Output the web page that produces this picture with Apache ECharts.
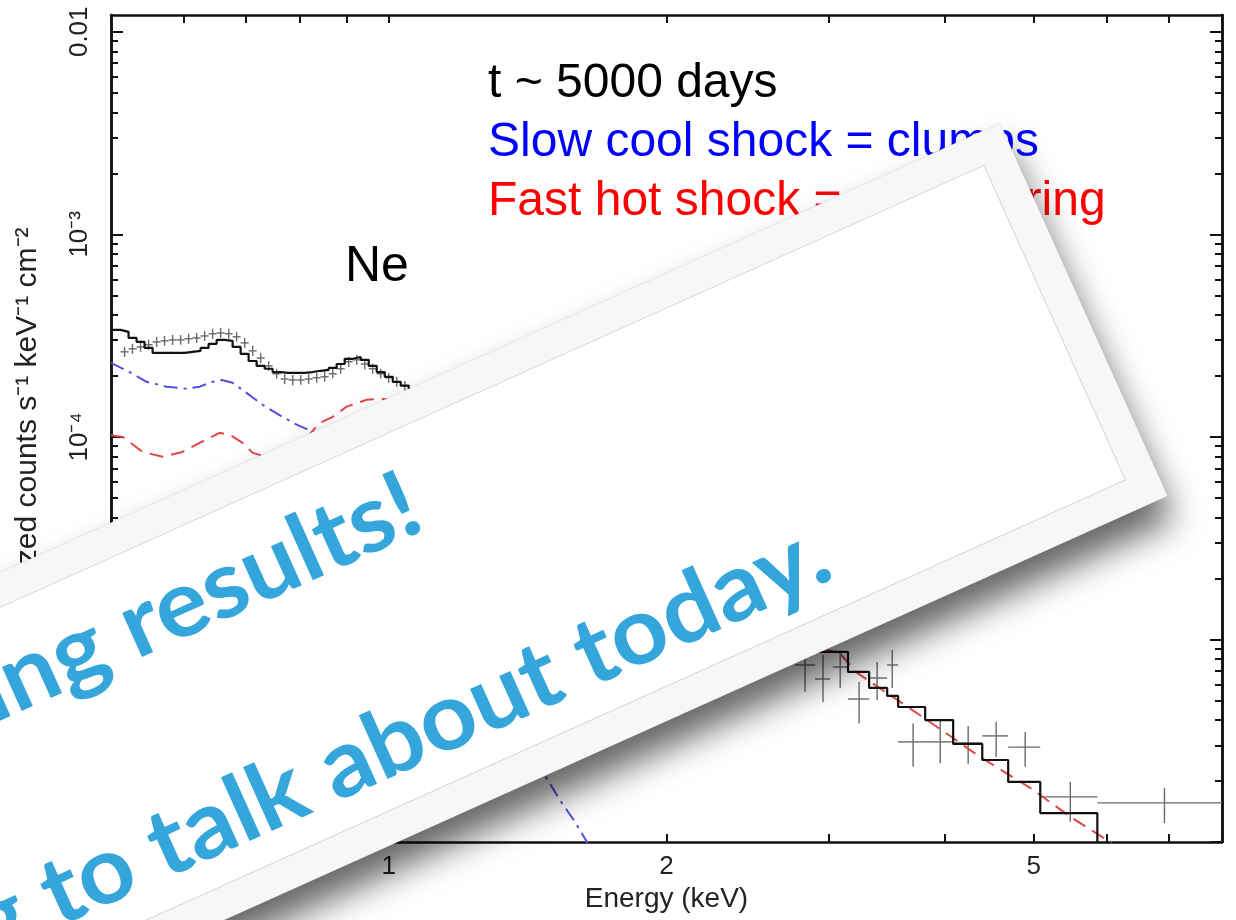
<!DOCTYPE html>
<html><head><meta charset="utf-8">
<script src="https://cdn.jsdelivr.net/npm/echarts@6/dist/echarts.min.js"></script>
<style>html,body{margin:0;padding:0;background:#fff}#chart{width:1236px;height:920px}</style>
</head><body><div id="chart"></div>
<script>
// ---------------- axis ticks / labels ----------------
const xTickValues = [0.6, 0.7, 0.8, 0.9, 1, 2, 3, 4, 5, 6, 7, 8];
const xLabelValues = [1, 2, 5];
const xLabelTexts = ['1', '2', '5'];
const yMajorValues = [1e-6, 1e-5, 1e-4, 1e-3, 1e-2];
const yMajorTexts = ['10⁻⁶', '10⁻⁵', '10⁻⁴', '10⁻³', '0.01'];
const yMinorValues = [2e-6, 3e-6, 4e-6, 5e-6, 6e-6, 7e-6, 8e-6, 9e-6,
  2e-5, 3e-5, 4e-5, 5e-5, 6e-5, 7e-5, 8e-5, 9e-5,
  2e-4, 3e-4, 4e-4, 5e-4, 6e-4, 7e-4, 8e-4, 9e-4,
  2e-3, 3e-3, 4e-3, 5e-3, 6e-3, 7e-3, 8e-3, 9e-3];

// ---------------- data points (energy keV, bin lo/hi, counts, err lo/hi) ----------------
const dataE = [0.5172, 0.5275, 0.5383, 0.5492, 0.5603, 0.5715, 0.5831, 0.5949, 0.6069, 0.6192, 0.6316, 0.6444,
  0.6574, 0.6707, 0.6841, 0.6980, 0.7121, 0.7265, 0.7410, 0.7560, 0.7713, 0.7869, 0.8028, 0.8188,
  0.8354, 0.8523, 0.8696, 0.8870, 0.9050, 0.9232, 0.9419, 0.9607, 0.9802, 1.0000, 1.0202, 1.0409,
  2.826, 2.956, 3.085, 3.234, 3.383, 3.513, 3.701, 3.960, 4.246, 4.553, 4.895, 5.479, 6.93];
const dataELo = [0.5120, 0.5224, 0.5330, 0.5437, 0.5547, 0.5659, 0.5773, 0.5889, 0.6008, 0.6129, 0.6253, 0.6379,
  0.6508, 0.6639, 0.6773, 0.6910, 0.7049, 0.7191, 0.7337, 0.7484, 0.7635, 0.7789, 0.7947, 0.8107,
  0.8270, 0.8437, 0.8607, 0.8781, 0.8959, 0.9139, 0.9325, 0.9513, 0.9705, 0.9901, 1.0100, 1.0304,
  2.756, 2.898, 3.030, 3.146, 3.316, 3.469, 3.565, 3.814, 4.090, 4.398, 4.692, 5.083, 5.861];
const dataEHi = [0.5224, 0.5330, 0.5437, 0.5547, 0.5659, 0.5773, 0.5889, 0.6008, 0.6129, 0.6253, 0.6379, 0.6508,
  0.6639, 0.6773, 0.6910, 0.7049, 0.7191, 0.7337, 0.7484, 0.7635, 0.7789, 0.7947, 0.8107, 0.8270,
  0.8437, 0.8607, 0.8781, 0.8959, 0.9139, 0.9325, 0.9513, 0.9705, 0.9901, 1.0100, 1.0304, 1.0512,
  2.898, 3.008, 3.146, 3.316, 3.469, 3.565, 3.814, 4.090, 4.398, 4.692, 5.083, 5.861, 8.0];
const dataV = [2.63e-4, 2.72e-4, 2.78e-4, 2.85e-4, 2.945e-4, 2.98e-4, 3.01e-4, 3.01e-4, 3.05e-4, 3.08e-4, 3.15e-4, 3.23e-4,
  3.26e-4, 3.23e-4, 3.12e-4, 2.91e-4, 2.66e-4, 2.45e-4, 2.24e-4, 2.05e-4, 1.93e-4, 1.91e-4, 1.91e-4, 1.93e-4,
  1.96e-4, 1.98e-4, 2.05e-4, 2.17e-4, 2.35e-4, 2.40e-4, 2.29e-4, 2.17e-4, 2.05e-4, 1.96e-4, 1.87e-4, 1.79e-4,
  7.48e-6, 6.38e-6, 7.31e-6, 5.08e-6, 6.45e-6, 7.48e-6, 3.12e-6, 3.12e-6, 3.08e-6, 3.34e-6, 2.94e-6, 1.67e-6, 1.56e-6];
const dataVLo = [2.48e-4, 2.57e-4, 2.63e-4, 2.69e-4, 2.78e-4, 2.82e-4, 2.84e-4, 2.85e-4, 2.88e-4, 2.91e-4, 2.98e-4, 3.05e-4,
  3.08e-4, 3.05e-4, 2.95e-4, 2.75e-4, 2.51e-4, 2.31e-4, 2.12e-4, 1.94e-4, 1.82e-4, 1.80e-4, 1.81e-4, 1.82e-4,
  1.85e-4, 1.87e-4, 1.94e-4, 2.05e-4, 2.22e-4, 2.27e-4, 2.16e-4, 2.05e-4, 1.94e-4, 1.85e-4, 1.77e-4, 1.69e-4,
  5.51e-6, 4.91e-6, 5.76e-6, 3.85e-6, 5.02e-6, 5.76e-6, 2.35e-6, 2.45e-6, 2.43e-6, 2.63e-6, 2.35e-6, 1.26e-6, 1.24e-6];
const dataVHi = [2.78e-4, 2.88e-4, 2.94e-4, 3.02e-4, 3.12e-4, 3.15e-4, 3.19e-4, 3.18e-4, 3.23e-4, 3.26e-4, 3.33e-4, 3.42e-4,
  3.45e-4, 3.42e-4, 3.30e-4, 3.08e-4, 2.82e-4, 2.60e-4, 2.37e-4, 2.17e-4, 2.04e-4, 2.02e-4, 2.02e-4, 2.04e-4,
  2.07e-4, 2.10e-4, 2.17e-4, 2.30e-4, 2.49e-4, 2.54e-4, 2.42e-4, 2.30e-4, 2.17e-4, 2.07e-4, 1.98e-4, 1.89e-4,
  1.076e-5, 8.38e-6, 8.68e-6, 6.17e-6, 7.74e-6, 8.87e-6, 3.85e-6, 4.00e-6, 3.74e-6, 3.92e-6, 3.49e-6, 1.98e-6, 1.85e-6];

// ---------------- total model (histogram: bin edges, bin values) ----------------
const modelEdges = [0.5, 0.5120, 0.5224, 0.5330, 0.5437, 0.5547, 0.5659, 0.5773, 0.5889, 0.6008, 0.6129, 0.6253, 0.6379,
  0.6508, 0.6639, 0.6773, 0.6910, 0.7049, 0.7191, 0.7337, 0.7484, 0.7635, 0.7789, 0.7947, 0.8107,
  0.8270, 0.8437, 0.8607, 0.8781, 0.8959, 0.9139, 0.9325, 0.9513, 0.9705, 0.9901, 1.0100, 1.0304,
  1.0512, 1.10, 1.20, 1.30, 1.42, 1.60, 1.78, 1.95, 2.25, 2.55,
  2.80, 3.146, 3.316, 3.469, 3.565, 3.814, 4.090, 4.398, 4.692, 5.083, 5.861, 8.0];
const modelV = [3.375e-4, 3.30e-4, 3.08e-4, 2.945e-4, 2.75e-4, 2.60e-4, 2.60e-4, 2.60e-4, 2.60e-4, 2.63e-4, 2.66e-4, 2.75e-4,
  2.88e-4, 3.01e-4, 2.98e-4, 2.78e-4, 2.57e-4, 2.37e-4, 2.24e-4, 2.17e-4, 2.09e-4, 2.07e-4, 2.07e-4, 2.07e-4,
  2.09e-4, 2.12e-4, 2.14e-4, 2.19e-4, 2.29e-4, 2.43e-4, 2.48e-4, 2.40e-4, 2.24e-4, 2.09e-4, 1.98e-4, 1.87e-4, 1.79e-4,
  1.6e-4, 1.25e-4, 9.0e-5, 7.5e-5, 4.8e-5, 3.2e-5, 3.0e-5, 1.9e-5, 1.35e-5, 1.05e-5,
  8.68e-6, 6.91e-6, 5.76e-6, 5.26e-6, 4.64e-6, 4.00e-6, 3.05e-6, 2.54e-6, 1.98e-6, 1.39e-6, 7.0e-7];

// ---------------- slow cool shock component ----------------
const slowE = [0.5, 0.5237, 0.5463, 0.5742, 0.6036, 0.6238, 0.6444, 0.6591, 0.6773, 0.7011, 0.7301, 0.7615, 0.7946, 0.8271,
  0.87, 0.92, 1.0, 1.1, 1.2, 1.35, 1.476, 1.533, 1.591, 1.640, 1.70];
const slowV = [2.32e-4, 2.09e-4, 1.87e-4, 1.77e-4, 1.73e-4, 1.77e-4, 1.87e-4, 1.91e-4, 1.85e-4, 1.65e-4, 1.44e-4, 1.28e-4, 1.15e-4, 1.06e-4,
  9.5e-5, 8.5e-5, 7.5e-5, 4.0e-5, 1.8e-5, 7.0e-6, 2.14e-6, 1.61e-6, 1.26e-6, 1.0e-6, 7.5e-7];

// ---------------- fast hot shock component ----------------
const fastE = [0.5, 0.5147, 0.5409, 0.5688, 0.5976, 0.6238, 0.6557, 0.6725, 0.6945, 0.7121, 0.742, 0.78, 0.81,
  0.8418, 0.8696, 0.9003, 0.9465, 0.9778, 1.01, 1.1, 1.25, 1.4, 1.6, 1.85, 2.1, 2.4, 2.75,
  3.085, 3.218, 3.833, 4.375, 4.994, 5.479, 6.053, 6.3];
const fastV = [1.02e-4, 1.0e-4, 8.43e-5, 7.97e-5, 8.43e-5, 9.34e-5, 1.047e-4, 1.023e-4, 9.34e-5, 8.34e-5, 7.9e-5, 8.3e-5, 9.6e-5,
  1.173e-4, 1.256e-4, 1.41e-4, 1.525e-4, 1.54e-4, 1.525e-4, 1.2e-4, 8.5e-5, 6.0e-5, 4.0e-5, 2.8e-5, 1.9e-5, 1.35e-5, 1.0e-5,
  8.5e-6, 6.84e-6, 4.0e-6, 2.63e-6, 1.81e-6, 1.33e-6, 1.0e-6, 8.6e-7];

// ---------------- texts ----------------
const annoLines = ['t ~ 5000 days', 'Slow cool shock = clumps', 'Fast hot shock = smooth ring'];
const annoColors = ['#000000', '#0000ff', '#ff0000'];
const cardLines = ['Exciting results!', 'Not going to talk about today.'];

const FONT = '"Liberation Sans", Arial, Helvetica, sans-serif';
const CARD_FONT = 'Lato, "Open Sans", sans-serif';
const sameLog = (a, b) => Math.abs(Math.log10(a) - Math.log10(b)) < 1e-6;
const lookup = (vals, texts) => v => { const i = vals.findIndex(a => sameLog(a, v)); return i < 0 ? '' : texts[i]; };

const frameLine = { show: true, onZero: false, lineStyle: { color: '#111', width: 2.5 } };
const xAxisBase = { type: 'log', logBase: 10, min: 0.5, max: 8, splitLine: { show: false }, axisLine: frameLine };
const yAxisBase = { type: 'log', logBase: 10, min: 1e-6, max: 0.0121, splitLine: { show: false }, axisLine: frameLine };

const chart = echarts.init(document.getElementById('chart'), null, { renderer: 'canvas' });
const theta = 24.2 * Math.PI / 180;
const cardW = 1700, cardH = 409, inset = 32;

chart.setOption({
  animation: false,
  backgroundColor: '#ffffff',
  grid: { left: 111, right: 14, top: 15, bottom: 78, containLabel: false },
  xAxis: [
    Object.assign({}, xAxisBase, {
      position: 'bottom',
      axisTick: { show: true, inside: true, length: 8, customValues: xTickValues, lineStyle: { color: '#111', width: 2 } },
      axisLabel: { show: true, customValues: xLabelValues, formatter: lookup(xLabelValues, xLabelTexts),
        fontSize: 26, fontFamily: FONT, color: '#222', margin: 12 },
      name: 'Energy (keV)', nameLocation: 'middle', nameGap: 42,
      nameTextStyle: { fontSize: 28, fontFamily: FONT, color: '#222' }
    }),
    Object.assign({}, xAxisBase, {
      position: 'top',
      axisTick: { show: true, inside: true, length: 8, customValues: xTickValues, lineStyle: { color: '#111', width: 2 } },
      axisLabel: { show: false }
    })
  ],
  yAxis: [
    Object.assign({}, yAxisBase, {
      position: 'left',
      axisTick: { show: true, inside: true, length: 12, customValues: yMajorValues, lineStyle: { color: '#111', width: 2 } },
      axisLabel: { show: true, customValues: yMajorValues, formatter: lookup(yMajorValues, yMajorTexts),
        rotate: 90, fontSize: 26, fontFamily: FONT, color: '#222', margin: 18 },
      name: 'normalized counts s⁻¹ keV⁻¹ cm⁻²', nameLocation: 'middle', nameRotate: 90, nameGap: 68,
      nameTextStyle: { fontSize: 30, fontFamily: FONT, color: '#222', padding: [0, 33, 0, 0] }
    }),
    Object.assign({}, yAxisBase, {
      position: 'left',
      axisTick: { show: true, inside: true, length: 7, customValues: yMinorValues, lineStyle: { color: '#111', width: 2 } },
      axisLabel: { show: false }
    }),
    Object.assign({}, yAxisBase, {
      position: 'right',
      axisTick: { show: true, inside: true, length: 12, customValues: yMajorValues, lineStyle: { color: '#111', width: 2 } },
      axisLabel: { show: false }
    }),
    Object.assign({}, yAxisBase, {
      position: 'right',
      axisTick: { show: true, inside: true, length: 7, customValues: yMinorValues, lineStyle: { color: '#111', width: 2 } },
      axisLabel: { show: false }
    })
  ],
  series: [
    {
      type: 'custom', name: 'data', xAxisIndex: 0, yAxisIndex: 0, clip: true, z: 2,
      data: dataE.map((e, i) => [e, dataELo[i], dataEHi[i], dataV[i], dataVLo[i], dataVHi[i]]),
      encode: { x: [0, 1, 2], y: [3, 4, 5] },
      renderItem: function (params, api) {
        const a = api.coord([api.value(1), api.value(3)]);
        const b = api.coord([api.value(2), api.value(3)]);
        const c = api.coord([api.value(0), api.value(4)]);
        const d = api.coord([api.value(0), api.value(5)]);
        const st = { stroke: '#6a6a6a', lineWidth: 1.4 };
        return { type: 'group', children: [
          { type: 'line', shape: { x1: a[0], y1: a[1], x2: b[0], y2: b[1] }, style: st },
          { type: 'line', shape: { x1: c[0], y1: c[1], x2: d[0], y2: d[1] }, style: st }
        ] };
      }
    },
    {
      type: 'line', name: 'slow', xAxisIndex: 0, yAxisIndex: 0, z: 3, symbol: 'none',
      data: slowE.map((e, i) => [e, slowV[i]]),
      lineStyle: { color: '#5050e0', width: 2, type: [14, 6, 3, 6] }
    },
    {
      type: 'line', name: 'fast', xAxisIndex: 0, yAxisIndex: 0, z: 3, symbol: 'none',
      data: fastE.map((e, i) => [e, fastV[i]]),
      lineStyle: { color: '#e04848', width: 2, type: [14, 8] }
    },
    {
      type: 'line', name: 'total', xAxisIndex: 0, yAxisIndex: 0, z: 4, symbol: 'none', step: 'end',
      data: modelEdges.map((e, i) => [e, modelV[Math.min(i, modelV.length - 1)]]),
      lineStyle: { color: '#111', width: 2.2 }
    }
  ],
  graphic: [
    { type: 'text', left: 488, top: 60, z: 10, style: { text: annoLines[0], fontSize: 48, fontFamily: FONT, fill: annoColors[0] } },
    { type: 'text', left: 488, top: 119, z: 10, style: { text: annoLines[1], fontSize: 48, fontFamily: FONT, fill: annoColors[1] } },
    { type: 'text', left: 488, top: 178, z: 10, style: { text: annoLines[2], fontSize: 48, fontFamily: FONT, fill: annoColors[2] } },
    { type: 'text', left: 345, top: 242, z: 10, style: { text: 'Ne', fontSize: 50, fontFamily: FONT, fill: '#000' } },
    {
      type: 'group', x: 1000, y: 123, rotation: theta, z: 100,
      children: [
        { type: 'rect', z: 100, shape: { x: -cardW, y: 0, width: cardW, height: cardH },
          style: { fill: '#f7f7f7', stroke: 'rgba(0,0,0,0.06)', lineWidth: 1,
            shadowBlur: 34, shadowOffsetX: 6, shadowOffsetY: 24, shadowColor: 'rgba(0,0,0,0.6)' } },
        { type: 'rect', z: 101, shape: { x: -cardW + inset, y: inset, width: cardW - 2 * inset, height: cardH - 2 * inset },
          style: { fill: '#ffffff', stroke: '#d6d6d6', lineWidth: 1 } },
        { type: 'text', z: 102, x: -688, y: 152, scaleX: 1.05,
          style: { text: cardLines[0], fontSize: 94, fontWeight: 'bold', fontFamily: CARD_FONT,
            fill: '#35a6db', align: 'right', verticalAlign: 'bottom' } },
        { type: 'text', z: 102, x: -335, y: 364, scaleX: 1.05,
          style: { text: cardLines[1], fontSize: 94, fontWeight: 'bold', fontFamily: CARD_FONT,
            fill: '#35a6db', align: 'right', verticalAlign: 'bottom' } }
      ]
    }
  ]
});
</script>
</body></html>
